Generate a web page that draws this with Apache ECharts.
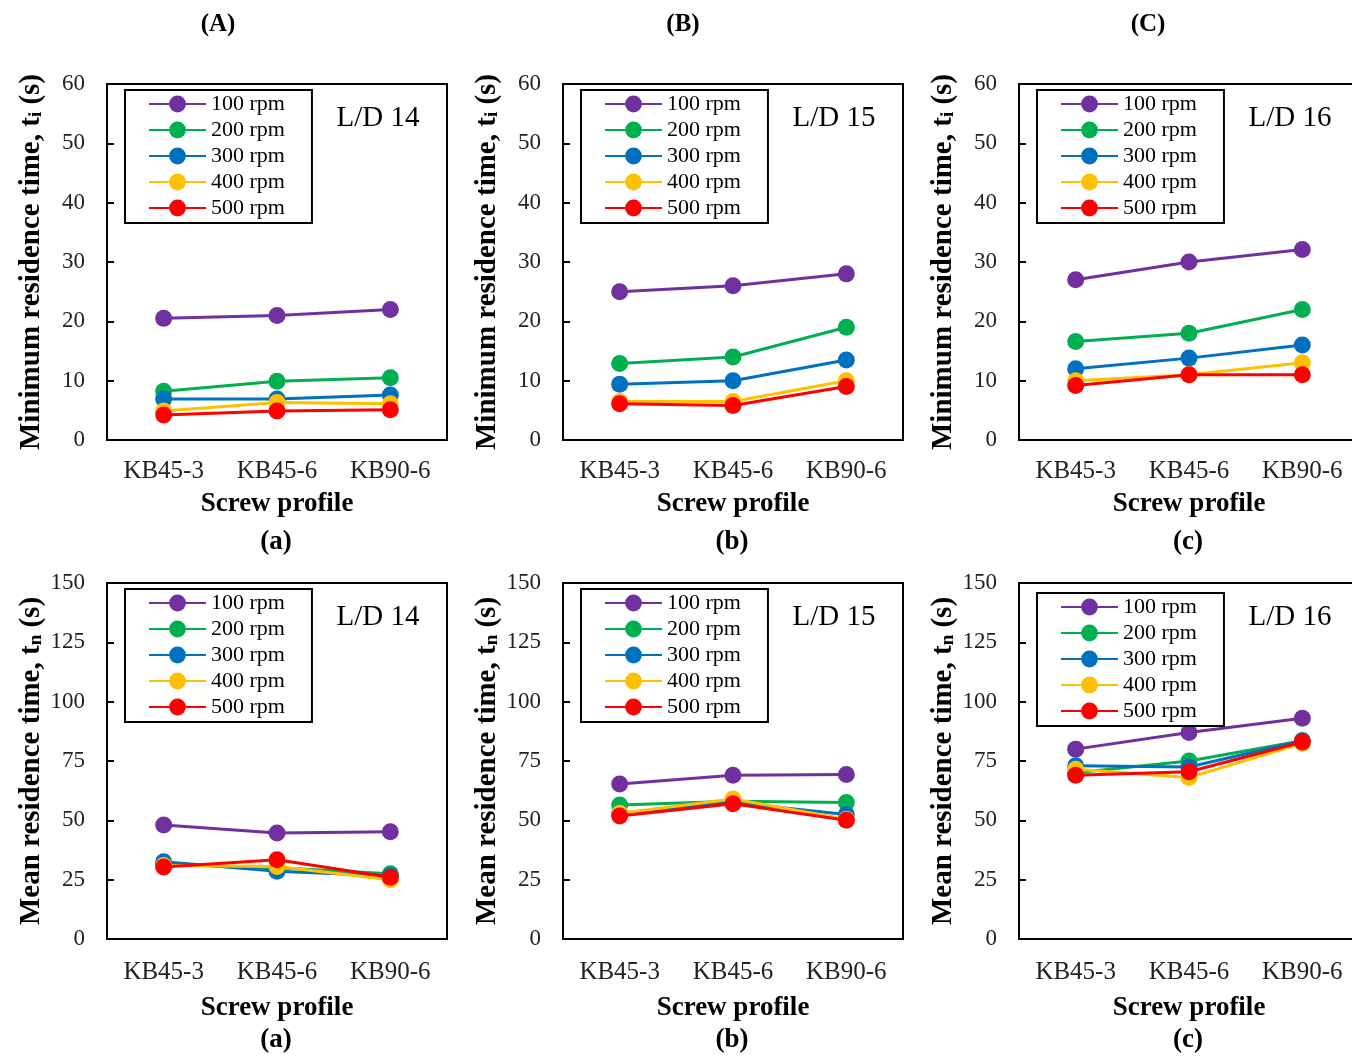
<!DOCTYPE html>
<html>
<head>
<meta charset="utf-8">
<script src="https://cdn.jsdelivr.net/npm/echarts@6/dist/echarts.min.js"></script>
<style>
  html, body { margin: 0; padding: 0; background: #fff; }
  #chart { width: 1352px; height: 1057px; }
</style>
</head>
<body>
<div id="chart"></div>
<script>
const categories = ['KB45-3', 'KB45-6', 'KB90-6']
const speeds = ['100 rpm', '200 rpm', '300 rpm', '400 rpm', '500 rpm']
const colors = ['#7030A0', '#00B050', '#0070C0', '#FFC000', '#FF0000']

// minimum residence time t_i (s), one row per screw speed
const minTimeLD14 = [
  [20.5, 21, 22],
  [8.2, 9.9, 10.5],
  [6.9, 6.9, 7.6],
  [4.9, 6.3, 6.1],
  [4.2, 4.9, 5.1]
]
const minTimeLD15 = [
  [25, 26, 28],
  [12.9, 14, 19],
  [9.4, 10, 13.5],
  [6.5, 6.5, 10],
  [6.1, 5.8, 9]
]
const minTimeLD16 = [
  [27, 30, 32.1],
  [16.6, 18, 22],
  [12, 13.8, 16],
  [10, 11, 13],
  [9.2, 11, 11]
]
// mean residence time t_n (s)
const meanTimeLD14 = [
  [48, 44.7, 45.2],
  [31.5, 30, 27.5],
  [32.5, 28.5, 26.5],
  [31, 30.5, 25],
  [30.3, 33.4, 26]
]
const meanTimeLD15 = [
  [65.3, 69, 69.3],
  [56.5, 58, 57.5],
  [53, 57.5, 52.5],
  [53, 59, 50.5],
  [51.8, 57, 50]
]
const meanTimeLD16 = [
  [80, 87, 93],
  [70, 75, 83.5],
  [73, 72.5, 83.5],
  [71.5, 68, 82.5],
  [69, 70.5, 83]
]

const panels = [
  { data: minTimeLD14, ld: 'L/D 14', sub: '(a)', row: 0, col: 0 },
  { data: minTimeLD15, ld: 'L/D 15', sub: '(b)', row: 0, col: 1 },
  { data: minTimeLD16, ld: 'L/D 16', sub: '(c)', row: 0, col: 2 },
  { data: meanTimeLD14, ld: 'L/D 14', sub: '(a)', row: 1, col: 0 },
  { data: meanTimeLD15, ld: 'L/D 15', sub: '(b)', row: 1, col: 1 },
  { data: meanTimeLD16, ld: 'L/D 16', sub: '(c)', row: 1, col: 2 }
]
const headers = ['(A)', '(B)', '(C)']

const FONT = '"Liberation Serif", "Times New Roman", serif'
const lefts = [107, 563, 1019]
const tops = [84, 583]
const plotW = 340
const plotH = 356

const grids = []
const xAxes = []
const yAxes = []
const series = []
const legends = []
const graphics = []

panels.forEach((p, i) => {
  const left = lefts[p.col]
  const top = tops[p.row]
  const isMin = p.row === 0
  grids.push({
    left: left, top: top, width: plotW, height: plotH,
    outerBoundsMode: 'none',
    containLabel: false,
    show: true, borderColor: '#000', borderWidth: 2, backgroundColor: 'transparent'
  })
  xAxes.push({
    gridIndex: i,
    type: 'category',
    data: categories,
    axisLine: { lineStyle: { color: '#000', width: 2 } },
    axisTick: { inside: true, length: 7, lineStyle: { color: '#000', width: 2 } },
    axisLabel: { color: '#222', fontFamily: FONT, fontSize: 25, margin: isMin ? 19 : 21 },
    name: 'Screw profile',
    nameLocation: 'middle',
    nameGap: isMin ? 51 : 56,
    nameTextStyle: { color: '#000', fontFamily: FONT, fontSize: 27, fontWeight: 'bold' }
  })
  yAxes.push({
    gridIndex: i,
    type: 'value',
    min: 0,
    max: isMin ? 60 : 150,
    interval: isMin ? 10 : 25,
    splitLine: { show: false },
    axisLine: { show: true, lineStyle: { color: '#000', width: 2 } },
    axisTick: { show: true, inside: true, length: 7, lineStyle: { color: '#000', width: 2 } },
    axisLabel: { color: '#222', fontFamily: FONT, fontSize: 23, margin: 22 },
    name: isMin ? '{m|Minimum residence time, t}{s|i}{m| (s)}' : '{m|Mean residence time, t}{s|n}{m| (s)}',
    nameLocation: 'middle',
    nameRotate: 90,
    nameGap: 61,
    nameTextStyle: {
      rich: {
        m: { fontFamily: FONT, fontSize: 29, fontWeight: 'bold', color: '#000', lineHeight: 34, verticalAlign: 'bottom' },
        s: { fontFamily: FONT, fontSize: 19, fontWeight: 'bold', color: '#000', lineHeight: 18, verticalAlign: 'bottom' }
      }
    }
  })
  p.data.forEach((vals, k) => {
    series.push({
      name: speeds[k],
      type: 'line',
      xAxisIndex: i,
      yAxisIndex: i,
      data: vals,
      symbol: 'circle',
      symbolSize: 17,
      color: colors[k],
      lineStyle: { width: 3, color: colors[k] },
      itemStyle: { color: colors[k] },
      emphasis: { disabled: true },
      z: 2 + k
    })
  })
  legends.push({
    left: left + 18,
    top: isMin ? 90 : (p.col === 2 ? 593 : 589),
    orient: 'vertical',
    data: speeds,
    selectedMode: false,
    borderColor: '#000',
    borderWidth: 2,
    backgroundColor: '#fff',
    padding: [3, 27, 4, 23],
    itemWidth: 57,
    itemHeight: 21,
    itemGap: 4,
    textStyle: { color: '#000', fontFamily: FONT, fontSize: 22, lineHeight: 21 }
  })
  graphics.push({
    type: 'text',
    style: {
      text: p.ld, x: left + 271, y: top + 34,
      font: '29px ' + FONT, fill: '#000', align: 'center', verticalAlign: 'middle'
    }
  })
  graphics.push({
    type: 'text',
    style: {
      text: p.sub, x: left + 169, y: isMin ? 542 : 1040,
      font: 'bold 27px ' + FONT, fill: '#000', align: 'center', verticalAlign: 'middle'
    }
  })
})

const headerX = [218, 683, 1148]
headers.forEach((h, c) => {
  graphics.push({
    type: 'text',
    style: {
      text: h, x: headerX[c], y: 25,
      font: 'bold 25px ' + FONT, fill: '#000', align: 'center', verticalAlign: 'middle'
    }
  })
})

const chart = echarts.init(document.getElementById('chart'))
chart.setOption({
  animation: false,
  backgroundColor: '#fff',
  grid: grids,
  xAxis: xAxes,
  yAxis: yAxes,
  legend: legends,
  series: series,
  graphic: graphics
})
</script>
</body>
</html>
